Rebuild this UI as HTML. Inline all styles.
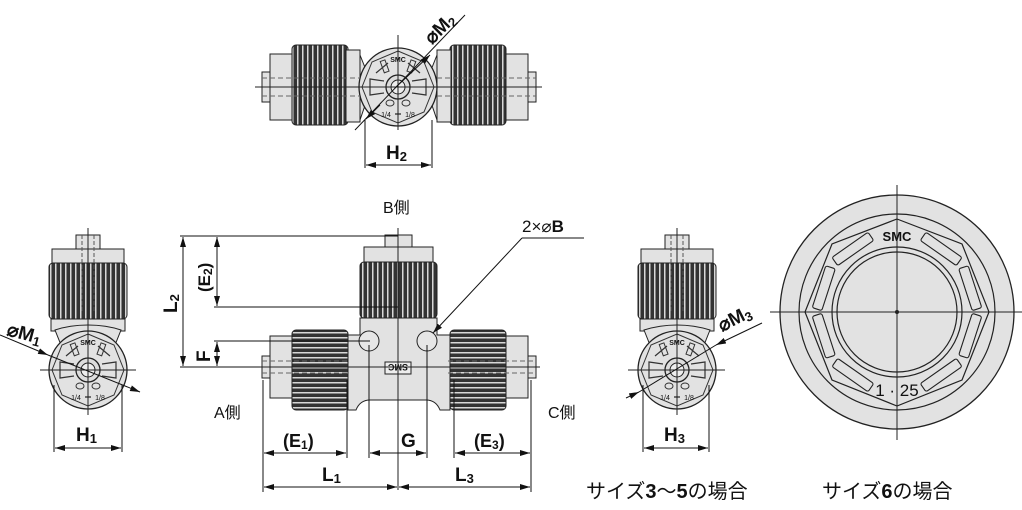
<!DOCTYPE html>
<html><head><meta charset="utf-8"><style>
html,body{margin:0;padding:0;background:#fff;width:1022px;height:510px;overflow:hidden}
svg{display:block}
text{font-family:"Liberation Sans","Noto Sans CJK JP",sans-serif;fill:#111}
</style></head><body>
<svg width="1022" height="510" viewBox="0 0 1022 510" xmlns="http://www.w3.org/2000/svg">
<defs>
<pattern id="kv" width="5" height="10" patternUnits="userSpaceOnUse"><rect width="5" height="10" fill="#333"/><rect x="2" width="1.5" height="10" fill="#d8d8d8"/></pattern>
<pattern id="kh" width="10" height="5" patternUnits="userSpaceOnUse"><rect width="10" height="5" fill="#333"/><rect y="2" width="10" height="1.5" fill="#d8d8d8"/></pattern>
<marker id="ar" viewBox="0 0 10 6" refX="10" refY="3" markerWidth="10" markerHeight="6" orient="auto-start-reverse" markerUnits="userSpaceOnUse"><path d="M0,0L10,3L0,6z" fill="#111"/></marker>
<g id="face">
<circle r="39" fill="#e2e2e2" stroke="#222" stroke-width="1.3"/>
<polygon points="0,-36 26,-25 36,0 26,25 0,36 -26,25 -36,0 -26,-25" fill="none" stroke="#333" stroke-width="1"/>
<path d="M-22,-14 L-10,-24 M22,-14 L10,-24 M-14,-6 L-28,-8 L-28,8 L-14,6 M14,-6 L28,-8 L28,8 L14,6" stroke="#333" fill="none" stroke-width="1.2"/>
<rect x="-8" y="-30" width="5" height="12" fill="none" stroke="#333" transform="rotate(-20)"/>
<rect x="3" y="-30" width="5" height="12" fill="none" stroke="#333" transform="rotate(20)"/>
<circle r="12" fill="#ddd" stroke="#222" stroke-width="1.3"/><circle r="7" fill="#eee" stroke="#222"/>
<ellipse cx="-8" cy="16" rx="4" ry="3" fill="none" stroke="#333"/><ellipse cx="8" cy="16" rx="4" ry="3" fill="none" stroke="#333"/>
<text x="0" y="-25" font-size="7" font-weight="bold" text-anchor="middle">SMC</text>
<text x="-12" y="30" font-size="7" text-anchor="middle">1/4</text><text x="12" y="30" font-size="7" text-anchor="middle">1/8</text>
<path d="M-3,27 h6" stroke="#222" stroke-width="1.2"/>
</g>
<g id="vnut">
<rect x="-12" y="-6" width="24" height="16" fill="#e2e2e2" stroke="#222"/>
<rect x="-36" y="8" width="72" height="16" fill="#e2e2e2" stroke="#222"/>
<rect x="-39" y="22" width="78" height="56" rx="4" fill="url(#kv)" stroke="#222"/>
<rect x="-37" y="78" width="74" height="12" fill="#e2e2e2" stroke="#222"/>
<line x1="-6" y1="-6" x2="-6" y2="70" stroke="#555" stroke-dasharray="4,2"/>
<line x1="6" y1="-6" x2="6" y2="70" stroke="#555" stroke-dasharray="4,2"/>
</g>
</defs>

<!-- TOP VIEW -->
<g>
<rect x="262" y="72" width="12" height="30" fill="#e2e2e2" stroke="#222"/>
<rect x="270" y="54" width="26" height="66" fill="#e2e2e2" stroke="#222"/>
<rect x="292" y="45" width="56" height="80" rx="4" fill="url(#kv)" stroke="#222"/>
<rect x="346" y="50" width="14" height="72" fill="#e2e2e2" stroke="#222"/>
<rect x="524" y="72" width="12" height="30" fill="#e2e2e2" stroke="#222"/>
<rect x="502" y="54" width="26" height="66" fill="#e2e2e2" stroke="#222"/>
<rect x="450" y="45" width="56" height="80" rx="4" fill="url(#kv)" stroke="#222"/>
<rect x="437" y="50" width="14" height="72" fill="#e2e2e2" stroke="#222"/>
<path d="M360,55 L372,85 L360,120 Z M437,55 L425,85 L437,120 Z" fill="#e2e2e2" stroke="#222"/>
<use href="#face" x="398" y="87"/>
<line x1="255" y1="87" x2="542" y2="87" stroke="#222"/>
<line x1="398" y1="35" x2="398" y2="130" stroke="#222"/>
<line x1="262" y1="78" x2="360" y2="78" stroke="#666" stroke-dasharray="5,3"/>
<line x1="262" y1="96" x2="360" y2="96" stroke="#666" stroke-dasharray="5,3"/>
<line x1="437" y1="78" x2="536" y2="78" stroke="#666" stroke-dasharray="5,3"/>
<line x1="437" y1="96" x2="536" y2="96" stroke="#666" stroke-dasharray="5,3"/>
<line x1="355" y1="130" x2="465" y2="15" stroke="#111"/>
<line x1="395" y1="88" x2="430" y2="55" stroke="#111" marker-end="url(#ar)"/>
<line x1="380" y1="105" x2="366" y2="119" stroke="#111" marker-end="url(#ar)"/>
<text x="0" y="0" font-size="19" font-weight="bold" transform="translate(432,45) rotate(-45)">⌀M<tspan font-size="13" dy="3">2</tspan></text>
<line x1="365" y1="120" x2="365" y2="168" stroke="#111"/>
<line x1="432" y1="120" x2="432" y2="168" stroke="#111"/>
<line x1="366" y1="165" x2="431" y2="165" stroke="#111" marker-start="url(#ar)" marker-end="url(#ar)"/>
<text x="386" y="159" font-size="19" font-weight="bold">H<tspan font-size="13" dy="2">2</tspan></text>
</g>

<!-- FRONT VIEW -->
<g>
<text x="383" y="213" font-size="16">B側</text>
<rect x="262" y="356" width="12" height="22" fill="#e2e2e2" stroke="#222"/>
<rect x="270" y="336" width="24" height="62" fill="#e2e2e2" stroke="#222"/>
<rect x="292" y="330" width="56" height="80" rx="4" fill="url(#kh)" stroke="#222"/>
<rect x="524" y="356" width="12" height="22" fill="#e2e2e2" stroke="#222"/>
<rect x="504" y="336" width="24" height="62" fill="#e2e2e2" stroke="#222"/>
<rect x="450" y="330" width="56" height="80" rx="4" fill="url(#kh)" stroke="#222"/>
<path d="M348,335 H360 V318 H437 V335 H450 V410 H440 Q436,400 426,400 H370 Q360,400 356,410 H348 Z" fill="#e2e2e2" stroke="#222"/>
<rect x="385" y="235" width="27" height="14" fill="#e2e2e2" stroke="#222"/>
<rect x="364" y="247" width="69" height="17" fill="#e2e2e2" stroke="#222"/>
<rect x="360" y="262" width="77" height="56" rx="4" fill="url(#kv)" stroke="#222"/>
<circle cx="369" cy="341" r="10" fill="#e6e6e6" stroke="#222"/>
<circle cx="427" cy="341" r="10" fill="#e6e6e6" stroke="#222"/>
<rect x="385" y="362" width="26" height="12" fill="#eee" stroke="#222"/>
<text x="398" y="372" font-size="9" font-weight="bold" text-anchor="middle" transform="rotate(180 398 368)">SMC</text>
<line x1="398" y1="228" x2="398" y2="490" stroke="#222"/>
<line x1="258" y1="367" x2="540" y2="367" stroke="#222"/>
<line x1="262" y1="361" x2="350" y2="361" stroke="#666" stroke-dasharray="5,3"/>
<line x1="262" y1="373" x2="350" y2="373" stroke="#666" stroke-dasharray="5,3"/>
<line x1="448" y1="361" x2="536" y2="361" stroke="#666" stroke-dasharray="5,3"/>
<line x1="448" y1="373" x2="536" y2="373" stroke="#666" stroke-dasharray="5,3"/>
<line x1="180" y1="236" x2="398" y2="236" stroke="#111"/>
<line x1="214" y1="307" x2="398" y2="307" stroke="#111"/>
<line x1="214" y1="341" x2="370" y2="341" stroke="#111"/>
<line x1="180" y1="367" x2="260" y2="367" stroke="#111"/>
<line x1="183" y1="237" x2="183" y2="366" stroke="#111" marker-start="url(#ar)" marker-end="url(#ar)"/>
<line x1="217" y1="237" x2="217" y2="306" stroke="#111" marker-start="url(#ar)" marker-end="url(#ar)"/>
<line x1="217" y1="342" x2="217" y2="366" stroke="#111" marker-start="url(#ar)" marker-end="url(#ar)"/>
<text font-size="19" font-weight="bold" transform="translate(177,313) rotate(-90)">L<tspan font-size="13" dy="2">2</tspan></text>
<text font-size="17" font-weight="bold" transform="translate(210,292) rotate(-90)">(E<tspan font-size="12" dy="2">2</tspan><tspan dy="-2">)</tspan></text>
<text font-size="19" font-weight="bold" transform="translate(210,362) rotate(-90)">F</text>
<text x="522" y="232" font-size="17">2×⌀<tspan font-weight="bold">B</tspan></text>
<line x1="522" y1="238" x2="584" y2="238" stroke="#111"/>
<line x1="522" y1="238" x2="433" y2="333" stroke="#111" marker-end="url(#ar)"/>
<text x="214" y="418" font-size="16">A側</text>
<text x="548" y="418" font-size="16">C側</text>
<g stroke="#111">
<line x1="263" y1="380" x2="263" y2="492"/>
<line x1="347" y1="380" x2="347" y2="458"/>
<line x1="369" y1="345" x2="369" y2="458"/>
<line x1="427" y1="345" x2="427" y2="458"/>
<line x1="454" y1="380" x2="454" y2="458"/>
<line x1="531" y1="380" x2="531" y2="492"/>
<line x1="264" y1="453" x2="346" y2="453" marker-start="url(#ar)" marker-end="url(#ar)"/>
<line x1="370" y1="453" x2="426" y2="453" marker-start="url(#ar)" marker-end="url(#ar)"/>
<line x1="455" y1="453" x2="530" y2="453" marker-start="url(#ar)" marker-end="url(#ar)"/>
<line x1="264" y1="487" x2="397" y2="487" marker-start="url(#ar)" marker-end="url(#ar)"/>
<line x1="399" y1="487" x2="530" y2="487" marker-start="url(#ar)" marker-end="url(#ar)"/>
</g>
<text x="283" y="447" font-size="18" font-weight="bold">(E<tspan font-size="12" dy="2">1</tspan><tspan dy="-2">)</tspan></text>
<text x="401" y="447" font-size="19" font-weight="bold">G</text>
<text x="474" y="447" font-size="18" font-weight="bold">(E<tspan font-size="12" dy="2">3</tspan><tspan dy="-2">)</tspan></text>
<text x="322" y="481" font-size="19" font-weight="bold">L<tspan font-size="13" dy="2">1</tspan></text>
<text x="455" y="481" font-size="19" font-weight="bold">L<tspan font-size="13" dy="2">3</tspan></text>
</g>

<!-- LEFT END VIEW -->
<g>
<use href="#vnut" x="88" y="241"/>
<path d="M55,330 Q70,325 88,325 Q106,325 121,330 L115,345 H61 Z" fill="#e2e2e2" stroke="#222"/>
<use href="#face" x="88" y="370"/>
<line x1="88" y1="228" x2="88" y2="415" stroke="#222"/>
<line x1="40" y1="370" x2="136" y2="370" stroke="#222"/>
<line x1="0" y1="335" x2="48" y2="355" stroke="#111" marker-end="url(#ar)"/>
<line x1="48" y1="355" x2="140" y2="392" stroke="#111" marker-end="url(#ar)"/>
<text x="6" y="335" font-size="19" font-weight="bold" transform="rotate(15 6 335)">⌀M<tspan font-size="13" dy="3">1</tspan></text>
<line x1="54" y1="385" x2="54" y2="452" stroke="#111"/>
<line x1="122" y1="385" x2="122" y2="452" stroke="#111"/>
<line x1="55" y1="448" x2="121" y2="448" stroke="#111" marker-start="url(#ar)" marker-end="url(#ar)"/>
<text x="76" y="441" font-size="19" font-weight="bold">H<tspan font-size="13" dy="2">1</tspan></text>
</g>

<!-- RIGHT END VIEW -->
<g>
<use href="#vnut" x="677" y="241"/>
<path d="M644,330 Q660,325 677,325 Q694,325 710,330 L704,345 H650 Z" fill="#e2e2e2" stroke="#222"/>
<use href="#face" x="677" y="370"/>
<line x1="677" y1="228" x2="677" y2="415" stroke="#222"/>
<line x1="628" y1="370" x2="725" y2="370" stroke="#222"/>
<line x1="762" y1="323" x2="716" y2="345" stroke="#111" marker-end="url(#ar)"/>
<line x1="716" y1="345" x2="639" y2="392" stroke="#111"/>
<line x1="626" y1="398" x2="639" y2="392" stroke="#111" marker-end="url(#ar)"/>
<text x="722" y="332" font-size="19" font-weight="bold" transform="rotate(-27 722 332)">⌀M<tspan font-size="13" dy="3">3</tspan></text>
<line x1="643" y1="385" x2="643" y2="452" stroke="#111"/>
<line x1="709" y1="385" x2="709" y2="452" stroke="#111"/>
<line x1="644" y1="448" x2="708" y2="448" stroke="#111" marker-start="url(#ar)" marker-end="url(#ar)"/>
<text x="664" y="441" font-size="19" font-weight="bold">H<tspan font-size="13" dy="2">3</tspan></text>
</g>

<!-- BIG CIRCLE -->
<g>
<circle cx="897" cy="312" r="117" fill="#e2e2e2" stroke="#222" stroke-width="1.3"/>
<circle cx="897" cy="312" r="98" fill="none" stroke="#222" stroke-width="1.2"/>
<polygon points="897,219 962,244 989,312 962,380 897,406 832,380 805,312 832,244" fill="none" stroke="#222" stroke-width="1.2"/>
<circle cx="897" cy="312" r="65" fill="none" stroke="#222" stroke-width="1.2"/>
<circle cx="897" cy="312" r="60" fill="#e2e2e2" stroke="#222" stroke-width="1.2"/>
<g fill="none" stroke="#222" stroke-width="1.1">
<rect x="-22" y="-82" width="44" height="10" rx="2" transform="translate(897,312) rotate(-35)"/>
<rect x="-22" y="-82" width="44" height="10" rx="2" transform="translate(897,312) rotate(35)"/>
<rect x="-22" y="-82" width="44" height="10" rx="2" transform="translate(897,312) rotate(-72)"/>
<rect x="-22" y="-82" width="44" height="10" rx="2" transform="translate(897,312) rotate(72)"/>
<rect x="-22" y="-82" width="44" height="10" rx="2" transform="translate(897,312) rotate(-108)"/>
<rect x="-22" y="-82" width="44" height="10" rx="2" transform="translate(897,312) rotate(108)"/>
<rect x="-22" y="-82" width="44" height="10" rx="2" transform="translate(897,312) rotate(-145)"/>
<rect x="-22" y="-82" width="44" height="10" rx="2" transform="translate(897,312) rotate(145)"/>
</g>
<text x="897" y="241" font-size="13" font-weight="bold" text-anchor="middle">SMC</text>
<text x="897" y="396" font-size="17" text-anchor="middle">1 · 25</text>
<line x1="770" y1="312" x2="1022" y2="312" stroke="#222"/>
<line x1="897" y1="185" x2="897" y2="440" stroke="#222"/>
<circle cx="897" cy="312" r="2" fill="#222"/>
</g>

<text x="586" y="498" font-size="20">サイズ<tspan font-weight="bold">3</tspan>〜<tspan font-weight="bold">5</tspan>の場合</text>
<text x="822" y="498" font-size="20">サイズ<tspan font-weight="bold">6</tspan>の場合</text>
</svg>
</body></html>
